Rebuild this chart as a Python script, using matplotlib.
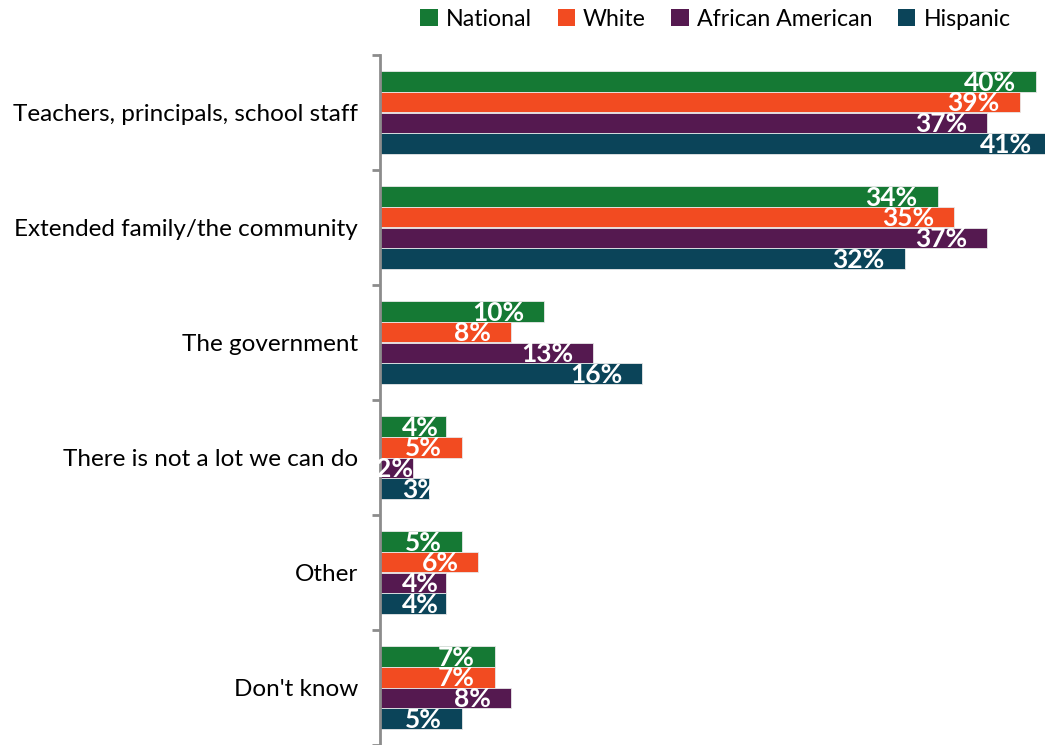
import matplotlib
matplotlib.use("Agg")
import matplotlib.pyplot as plt
from matplotlib.patches import Patch
import numpy as np

plt.rcParams['font.family'] = ['Lato', 'DejaVu Sans']

categories = ["Teachers, principals, school staff", "Extended family/the community",
              "The government", "There is not a lot we can do", "Other", "Don't know"]
series = ["National", "White", "African American", "Hispanic"]
national = [40, 34, 10, 4, 5, 7]
white = [39, 35, 8, 5, 6, 7]
african_american = [37, 37, 13, 2, 4, 8]
hispanic = [41, 32, 16, 3, 4, 5]
colors = ["#157934", "#f24b21", "#551950", "#0b4459"]

values = [national, white, african_american, hispanic]

fig = plt.figure(figsize=(10.45, 7.45), dpi=100)
ax = fig.add_axes([380 / 1045, 0.0, 1 - 380 / 1045, 1 - 55 / 745])
ax.set_xlim(0, 665 / 16.4)
ax.set_ylim(len(categories) - 0.5, -0.5)

renderer = fig.canvas.get_renderer()
px_per_unit = ax.bbox.width / (665 / 16.4)

bar_h = 0.18
y = np.arange(len(categories))
for i, (vals, col) in enumerate(zip(values, colors)):
    ys = y + (i - 1.5) * bar_h
    ax.barh(ys, vals, height=bar_h, color=col, edgecolor="#e8e8e8", linewidth=0.6)
    for yy, v in zip(ys, vals):
        t = ax.text(0, yy + 0.01, f"{v}%", ha="right", va="center", color="white",
                    fontsize=19, fontweight="bold", clip_on=False)
        # label sits inside the bar end, pushed right when the bar is short
        w = t.get_window_extent(renderer).width
        bar_px = v * px_per_unit
        if bar_px < w:
            right = bar_px
        else:
            right = max(bar_px - 20, 22 + w)
        t.set_x(right / px_per_unit)

ax.set_xticks([])
ax.set_yticks(np.arange(len(categories) + 1) - 0.5)
ax.set_yticklabels([])
ax.set_yticks(y, minor=True)
ax.set_yticklabels(categories, minor=True, fontsize=17.5)
ax.tick_params(axis="y", which="minor", length=0, pad=16)
ax.tick_params(axis="y", which="major", length=6, width=2, color="#8c8c8c")
for s in ["top", "right", "bottom"]:
    ax.spines[s].set_visible(False)
ax.spines["left"].set_color("#8c8c8c")
ax.spines["left"].set_linewidth(2)

handles = [Patch(facecolor=c, edgecolor="none") for c in colors]
fig.legend(handles, series, loc="center", bbox_to_anchor=(715.5 / 1045, 1 - 19 / 745),
           ncol=4, frameon=False, fontsize=16.7, handlelength=0.75, handleheight=0.75,
           handletextpad=0.35, columnspacing=1.1, borderpad=0)

fig.savefig("out.png", dpi=100)
